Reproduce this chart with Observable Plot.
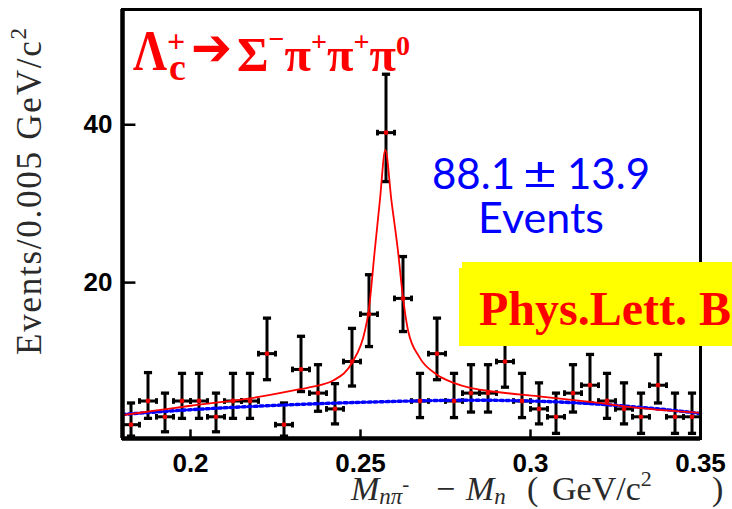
<!DOCTYPE html>
<html><head><meta charset="utf-8">
<script src="https://cdn.jsdelivr.net/npm/d3@7"></script>
<script src="https://cdn.jsdelivr.net/npm/@observablehq/plot@0.6"></script>
<style>
html,body{margin:0;padding:0;background:#fff;overflow:hidden}
#wrap{position:relative;width:732px;height:509px;overflow:hidden;background:#fff}
#chart{position:absolute;left:0;top:0}
#overlay{position:absolute;left:0;top:0;pointer-events:none}
</style></head>
<body><div id="wrap"><div id="chart"></div>
<svg id="overlay" width="732" height="509" xmlns="http://www.w3.org/2000/svg">
  <!-- title -->
  <g fill="#ff0000" font-family="'Liberation Serif','DejaVu Serif',serif" font-weight="bold" style="white-space:pre">
    <text x="133" y="70" font-size="56"><tspan textLength="34" lengthAdjust="spacingAndGlyphs">Λ</tspan><tspan x="167" y="52" font-size="32">+</tspan><tspan x="169" y="80" font-size="38">c</tspan></text>
    <text x="191" y="65" font-size="52" font-family="'DejaVu Sans',sans-serif" textLength="41" lengthAdjust="spacingAndGlyphs">➔</text>
    <text x="237" y="71" font-size="48" textLength="173" lengthAdjust="spacingAndGlyphs"><tspan>Σ</tspan><tspan font-size="28" dy="-23">−</tspan><tspan dy="23">π</tspan><tspan font-size="28" dy="-20">+</tspan><tspan dy="20">π</tspan><tspan font-size="28" dy="-20">+</tspan><tspan dy="20">π</tspan><tspan font-size="28" dy="-16">0</tspan></text>
  </g>
  <!-- yield -->
  <g fill="#0000ff" font-family="Lato,'Open Sans',sans-serif" font-size="42">
    <text x="515" y="189" text-anchor="end">88.1</text>
    <text x="523" y="189" font-size="44" textLength="34" lengthAdjust="spacingAndGlyphs">±</text>
    <text x="567" y="189">13.9</text>
    <text x="541" y="233" font-size="43" text-anchor="middle">Events</text>
  </g>
  <!-- journal box -->
  <rect x="462" y="262" width="290" height="84" fill="#ffff00"/>
  <rect x="459" y="268" width="290" height="78" fill="#ffff00"/>
  <text x="479" y="325" fill="#ff0000" font-family="'Liberation Serif','Times New Roman',serif" font-weight="bold" font-size="48">Phys.Lett. B7</text>
  <!-- axis titles -->
  <text transform="translate(41,355) rotate(-90)" font-family="'Liberation Serif','DejaVu Serif',serif" font-size="35" fill="#2a2a2a" textLength="327" lengthAdjust="spacing">Events/0.005 GeV/c<tspan font-size="23" dy="-15">2</tspan></text>
  <g font-family="'Liberation Serif','DejaVu Serif',serif" font-size="34" fill="#2a2a2a" style="white-space:pre">
    <text x="351" y="500"><tspan font-style="italic">M</tspan><tspan font-style="italic" font-size="23" dy="4">nπ</tspan><tspan font-size="21" dy="-13">-</tspan></text>
    <text x="436" y="500">−</text>
    <text x="466" y="500"><tspan font-style="italic">M</tspan><tspan font-style="italic" font-size="23" dy="4">n</tspan></text>
    <text x="527" y="500">(</text>
    <text x="552" y="500">GeV/c<tspan font-size="22" dy="-14">2</tspan></text>
    <text x="712" y="500">)</text>
  </g>
</svg>
</div>
<script>
// bin centres (GeV/c^2), bin width 0.005
const binCenters = [0.1825,0.1875,0.1925,0.1975,0.2025,0.2075,0.2125,0.2175,0.2225,0.2275,
  0.2325,0.2375,0.2425,0.2475,0.2525,0.2575,0.2625,0.2675,0.2725,0.2775,
  0.2825,0.2875,0.2925,0.2975,0.3025,0.3075,0.3125,0.3175,0.3225,0.3275,
  0.3325,0.3375,0.3425,0.3475];
const counts = [2,5,3,5,5,3,5,5,11,2, 9,6,4,10,16,39,18,5,11,5, 6,6,10,5,4,3,6,7,5,4, 3,7,3,3];
const errHigh = [4.75,8.6,6.0,8.5,8.5,6.0,8.5,8.5,15.5,4.75, 13.2,9.6,7.2,14.2,21.0,46.4,23.3,8.5,15.5,8.5, 9.6,9.6,14.2,8.5,7.3,6.0,9.6,10.9,8.5,7.3, 6.0,10.9,6.0,6.0];
const errLow = [0.55,2.8,1.1,2.8,2.8,1.1,2.8,2.8,7.7,0.55, 6.2,3.7,2.1,6.9,11.9,32.8,13.8,2.9,7.7,2.9, 3.6,3.6,6.75,2.9,2.1,0.9,3.6,4.75,2.8,2.1, 0.9,4.75,0.9,0.9];

// total fit (red)
const totalX = [0.180,0.190,0.200,0.2185,0.2322,0.238,0.242,0.2475,0.2513,0.2524,0.2542,0.2557,0.2573,
  0.2591,0.2610,0.2625,0.2640,0.2674,0.2723,0.2774,0.2823,0.2873,0.3024,0.3175,0.3324,0.350];
const totalY = [3.2,3.8,4.4,5.4,6.5,7.0,7.6,9.85,13.9,16.4,24.1,30.4,36.8,
  30.4,24.1,18.1,13.9,10.5,8.4,7.3,6.66,6.3,5.6,4.9,4.1,3.5];

// background (blue dotted)
const bkgX = [0.18,0.20,0.22,0.24,0.26,0.28,0.30,0.32,0.34,0.35];
const bkgY = [3.3,3.9,4.35,4.7,4.95,5.1,5.0,4.6,3.9,3.4];

const xTickValues = [0.2,0.25,0.3,0.35];
const xTickLabels = ["0.2","0.25","0.3","0.35"];
const yTickValues = [20,40];
const yTickLabels = ["20","40"];

const xDomain = [0.18,0.35];
const yDomain = [0.25,54.6];

const data = binCenters.map((x,i)=>({x, n:counts[i], hi:errHigh[i], lo:errLow[i]}));
const total = totalX.map((x,i)=>({x, y:totalY[i]}));
const bkg = bkgX.map((x,i)=>({x, y:bkgY[i]}));

const halfBin = 0.0025, capX = 0.0012, capY = 0.36;
const tickLenX = 1.15, tickLenY = 0.0038;
const sw = 3;

const chart = Plot.plot({
  width:732, height:509,
  marginTop:9, marginRight:32, marginBottom:71, marginLeft:122,
  x:{domain:xDomain, label:null},
  y:{domain:yDomain, label:null},
  style:{fontFamily:"'Liberation Sans',Arial,sans-serif", fontSize:"26px", fontWeight:"bold", color:"#000", background:"transparent"},
  marks:[
    // vertical error bars + caps
    Plot.ruleX(data,{x:"x", y1:"lo", y2:"hi", stroke:"#000", strokeWidth:sw}),
    Plot.link(data,{x1:d=>d.x-capX, x2:d=>d.x+capX, y1:"hi", y2:"hi", stroke:"#000", strokeWidth:sw+0.3}),
    Plot.link(data,{x1:d=>d.x-capX, x2:d=>d.x+capX, y1:"lo", y2:"lo", stroke:"#000", strokeWidth:sw+0.3}),
    // horizontal bars + end caps
    Plot.link(data,{x1:d=>d.x-halfBin, x2:d=>d.x+halfBin, y1:"n", y2:"n", stroke:"#000", strokeWidth:sw}),
    Plot.link(data,{x1:d=>d.x-halfBin, x2:d=>d.x-halfBin, y1:d=>d.n-capY, y2:d=>d.n+capY, stroke:"#000", strokeWidth:sw}),
    Plot.link(data,{x1:d=>d.x+halfBin, x2:d=>d.x+halfBin, y1:d=>d.n-capY, y2:d=>d.n+capY, stroke:"#000", strokeWidth:sw}),
    // fits
    Plot.line(bkg,{x:"x", y:"y", curve:"natural", stroke:"#0000ff", strokeWidth:3.4, strokeDasharray:"3,3"}),
    Plot.line(total,{x:"x", y:"y", curve:"monotone-x", stroke:"#ff0000", strokeWidth:1.8}),
    // data markers
    Plot.dot(data,{x:"x", y:"n", r:2.4, fill:"#ee0000", stroke:"none"}),
    // frame
    Plot.frame({stroke:"#000", strokeWidth:3}),
    Plot.ruleX([xDomain[0]],{stroke:"#000", strokeWidth:4.5}),
    Plot.ruleY([yDomain[0]],{stroke:"#000", strokeWidth:4.5}),
    // inward ticks
    Plot.link(xTickValues,{x1:d=>d, x2:d=>d, y1:yDomain[0], y2:yDomain[0]+tickLenX, stroke:"#000", strokeWidth:2.5}),
    Plot.link(yTickValues,{y1:d=>d, y2:d=>d, x1:xDomain[0], x2:xDomain[0]+tickLenY, stroke:"#000", strokeWidth:2.5}),
    // tick labels
    Plot.axisX(xTickValues,{tickSize:0, tickPadding:15, tickFormat:d=>xTickLabels[xTickValues.indexOf(d)], label:null}),
    Plot.axisY(yTickValues,{tickSize:0, tickPadding:10, tickFormat:d=>yTickLabels[yTickValues.indexOf(d)], label:null})
  ]
});
document.getElementById("chart").appendChild(chart);
</script>
</body></html>
